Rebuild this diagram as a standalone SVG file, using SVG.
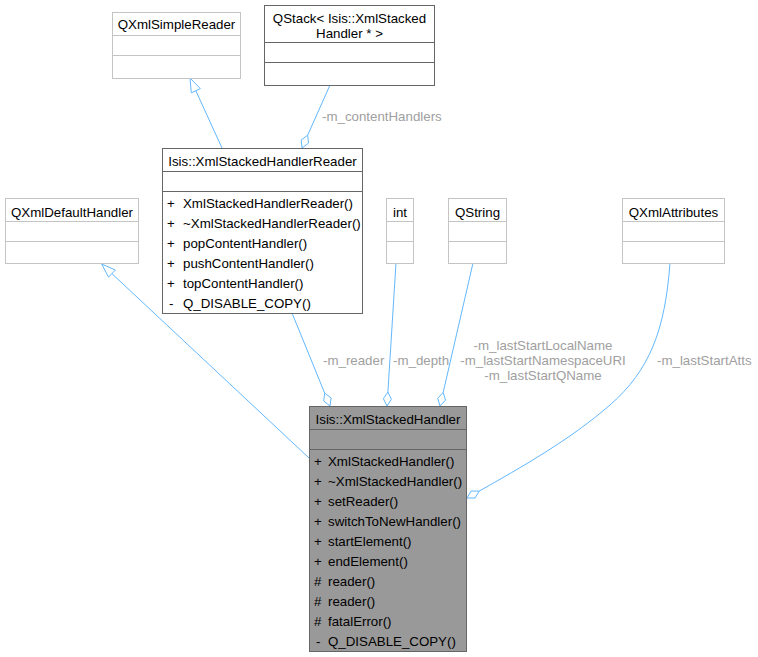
<svg xmlns="http://www.w3.org/2000/svg" width="758" height="657" viewBox="0 0 758 657">
<style>
text{font-family:"Liberation Sans",Arial,sans-serif;font-size:13.3px;fill:#000}
.c{text-anchor:middle}
.lb{fill:#a0a0a0}
.lt{fill:#fff;stroke:#c4c4c4;stroke-width:1}
.dk{fill:#fff;stroke:#666;stroke-width:1}
.main{fill:#999;stroke:#666;stroke-width:1}
.e{fill:none;stroke:#63b8ff;stroke-width:1}
.h{fill:#fff;stroke:#63b8ff;stroke-width:1}
</style>
<rect width="758" height="657" fill="#fff"/>
<g id="edges">
<path class="e" d="M222,148L195.8,90.7"/>
<polygon class="h" points="190,78 200.3,88.6 191.3,92.8"/>
<path class="e" d="M309,458L111.9,273.6"/>
<polygon class="h" points="101.7,264 115.3,270 108.5,277.2"/>
<path class="e" d="M330,85L307.7,135.2"/>
<polygon class="h" points="302,148 301.2,140 307.7,135.2 308.5,143.2"/>
<text class="lb" x="322" y="121">-m_contentHandlers</text>
<path class="e" d="M292,313L324.7,393.1"/>
<polygon class="h" points="330,406 323.7,401 324.7,393.1 331.1,398"/>
<text class="lb" x="323" y="365">-m_reader</text>
<path class="e" d="M396,263L387.9,392"/>
<polygon class="h" points="387,406 383.4,398.7 387.9,392 391.4,399.3"/>
<text class="lb" x="393" y="365">-m_depth</text>
<path class="e" d="M473,263L443.2,392.4"/>
<polygon class="h" points="440,406 437.7,398.3 443.2,392.4 445.5,400.1"/>
<text class="lb c" x="543" y="350">-m_lastStartLocalName</text>
<text class="lb c" x="543" y="365">-m_lastStartNamespaceURI</text>
<text class="lb c" x="543" y="380">-m_lastStartQName</text>
<path class="e" d="M670,263C665,330 650,370 610,405C570,440 520,468 479.2,491.1"/>
<polygon class="h" points="467,498 475.1,498 479.2,491.1 471.1,491"/>
<text class="lb" x="657" y="365">-m_lastStartAtts</text>
</g>
<g id="QXmlSimpleReader">
<rect class="lt" x="112.5" y="12.5" width="128" height="66"/>
<path class="lt" d="M112.5,35.5H240.5M112.5,55.5H240.5"/>
<text class="c" x="176.5" y="29">QXmlSimpleReader</text>
</g>
<g id="QStack">
<rect class="dk" x="264.5" y="5.5" width="170" height="80"/>
<path class="dk" d="M264.5,42.5H434.5M264.5,62.5H434.5"/>
<text class="c" x="349.5" y="23">QStack&lt; Isis::XmlStacked</text>
<text class="c" x="349.5" y="38">Handler * &gt;</text>
</g>
<g id="XmlStackedHandlerReader">
<rect class="dk" x="162.5" y="148.5" width="200" height="165"/>
<path class="dk" d="M162.5,171.5H362.5M162.5,191.5H362.5"/>
<text class="c" x="262.5" y="166">Isis::XmlStackedHandlerReader</text>
<text x="167" y="207.5">+</text><text x="183" y="207.5">XmlStackedHandlerReader()</text>
<text x="167" y="227.5">+</text><text x="183" y="227.5">~XmlStackedHandlerReader()</text>
<text x="167" y="247.5">+</text><text x="183" y="247.5">popContentHandler()</text>
<text x="167" y="267.5">+</text><text x="183" y="267.5">pushContentHandler()</text>
<text x="167" y="287.5">+</text><text x="183" y="287.5">topContentHandler()</text>
<text x="169" y="307.5">-</text><text x="183" y="307.5">Q_DISABLE_COPY()</text>
</g>
<g id="QXmlDefaultHandler">
<rect class="lt" x="5.5" y="198.5" width="133" height="65"/>
<path class="lt" d="M5.5,221.5H138.5M5.5,241.5H138.5"/>
<text class="c" x="72" y="217">QXmlDefaultHandler</text>
</g>
<g id="int">
<rect class="lt" x="386.5" y="198.5" width="27" height="65"/>
<path class="lt" d="M386.5,221.5H413.5M386.5,241.5H413.5"/>
<text class="c" x="400" y="217">int</text>
</g>
<g id="QString">
<rect class="lt" x="448.5" y="198.5" width="58" height="65"/>
<path class="lt" d="M448.5,221.5H506.5M448.5,241.5H506.5"/>
<text class="c" x="477.5" y="217">QString</text>
</g>
<g id="QXmlAttributes">
<rect class="lt" x="622.5" y="198.5" width="102" height="65"/>
<path class="lt" d="M622.5,221.5H724.5M622.5,241.5H724.5"/>
<text class="c" x="673.5" y="217">QXmlAttributes</text>
</g>
<g id="XmlStackedHandler">
<rect class="main" x="309.5" y="406.5" width="157" height="245"/>
<path class="main" d="M309.5,429.5H466.5M309.5,449.5H466.5"/>
<text class="c" x="388" y="424">Isis::XmlStackedHandler</text>
<text x="314" y="465.5">+</text><text x="328" y="465.5">XmlStackedHandler()</text>
<text x="314" y="485.5">+</text><text x="328" y="485.5">~XmlStackedHandler()</text>
<text x="314" y="505.5">+</text><text x="328" y="505.5">setReader()</text>
<text x="314" y="525.5">+</text><text x="328" y="525.5">switchToNewHandler()</text>
<text x="314" y="545.5">+</text><text x="328" y="545.5">startElement()</text>
<text x="314" y="565.5">+</text><text x="328" y="565.5">endElement()</text>
<text x="314" y="585.5">#</text><text x="328" y="585.5">reader()</text>
<text x="314" y="605.5">#</text><text x="328" y="605.5">reader()</text>
<text x="314" y="625.5">#</text><text x="328" y="625.5">fatalError()</text>
<text x="316" y="645.5">-</text><text x="328" y="645.5">Q_DISABLE_COPY()</text>
</g>
</svg>
